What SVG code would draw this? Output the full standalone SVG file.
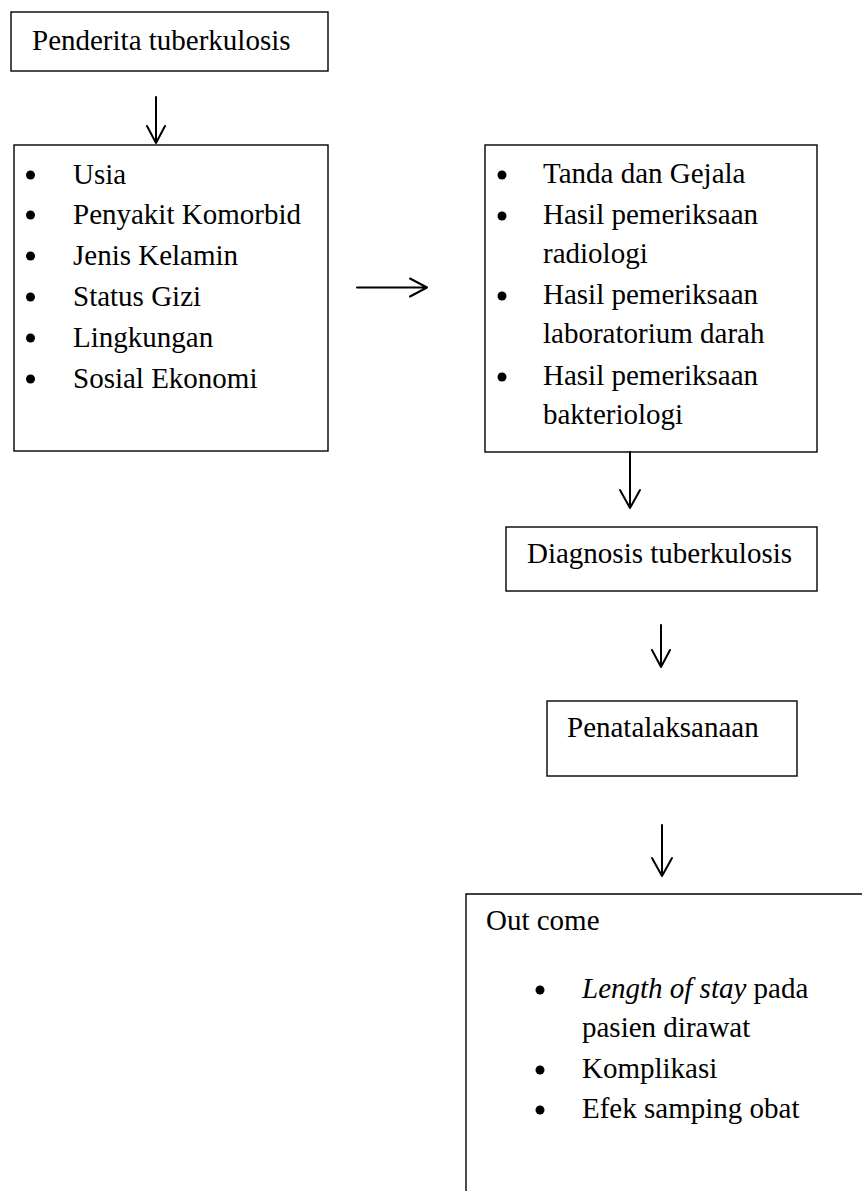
<svg xmlns="http://www.w3.org/2000/svg" width="862" height="1191" viewBox="0 0 862 1191">
<style>
.box{fill:#fff;stroke:#000;stroke-width:1.4}
.t{font-family:"Liberation Serif","Times New Roman",serif;font-size:29px;fill:#000}
.b{fill:#000}
.c{fill:none;stroke:#000;stroke-width:2;stroke-linecap:round;stroke-linejoin:round}
</style>
<rect width="862" height="1191" fill="#fff"/>
<g id="n1">
<rect class="box" x="11" y="12" width="317" height="59"/>
<text class="t" x="32" y="50">Penderita tuberkulosis</text>
</g>
<g id="n2">
<rect class="box" x="14" y="145" width="314" height="306"/>
<circle class="b" cx="30.5" cy="175" r="4.5"/><text class="t" x="73" y="184">Usia</text>
<circle class="b" cx="30.5" cy="215" r="4.5"/><text class="t" x="73" y="224">Penyakit Komorbid</text>
<circle class="b" cx="30.5" cy="256" r="4.5"/><text class="t" x="73" y="265">Jenis Kelamin</text>
<circle class="b" cx="30.5" cy="297" r="4.5"/><text class="t" x="73" y="306">Status Gizi</text>
<circle class="b" cx="30.5" cy="338" r="4.5"/><text class="t" x="73" y="347">Lingkungan</text>
<circle class="b" cx="30.5" cy="379" r="4.5"/><text class="t" x="73" y="388">Sosial Ekonomi</text>
</g>
<g id="n3">
<rect class="box" x="485" y="145" width="332" height="307"/>
<circle class="b" cx="502" cy="175" r="4.5"/><text class="t" x="543" y="183">Tanda dan Gejala</text>
<circle class="b" cx="502" cy="216" r="4.5"/><text class="t" x="543" y="224">Hasil pemeriksaan</text>
<text class="t" x="543" y="263">radiologi</text>
<circle class="b" cx="502" cy="296" r="4.5"/><text class="t" x="543" y="304">Hasil pemeriksaan</text>
<text class="t" x="543" y="343">laboratorium darah</text>
<circle class="b" cx="502" cy="377" r="4.5"/><text class="t" x="543" y="385">Hasil pemeriksaan</text>
<text class="t" x="543" y="424">bakteriologi</text>
</g>
<g id="n4">
<rect class="box" x="506" y="527" width="311" height="64"/>
<text class="t" x="527" y="563">Diagnosis tuberkulosis</text>
</g>
<g id="n5">
<rect class="box" x="547" y="701" width="250" height="75"/>
<text class="t" x="567" y="737">Penatalaksanaan</text>
</g>
<g id="n6">
<path class="box" d="M 466 1191 V 894 H 862" fill="none"/>
<text class="t" x="486" y="930">Out come</text>
<circle class="b" cx="540" cy="990" r="4.5"/><text class="t" x="582" y="998"><tspan font-style="italic">Length of stay</tspan> pada</text>
<text class="t" x="582" y="1037">pasien dirawat</text>
<circle class="b" cx="540" cy="1070" r="4.5"/><text class="t" x="582" y="1078">Komplikasi</text>
<circle class="b" cx="540" cy="1110" r="4.5"/><text class="t" x="582" y="1118">Efek samping obat</text>
</g>
<g id="connectors">
<path class="c" d="M 156 97 V 143 M 147 126 L 156 143 L 165 126"/>
<path class="c" d="M 357 287.5 H 427 M 410 278.5 L 427 287.5 L 410 296.5"/>
<path class="c" d="M 630 452 V 508 M 620 490 L 630 508 L 640 490"/>
<path class="c" d="M 661 625 V 667 M 652 650 L 661 667 L 670 650"/>
<path class="c" d="M 662 825 V 876 M 652 858 L 662 876 L 672 858"/>
</g>
</svg>
